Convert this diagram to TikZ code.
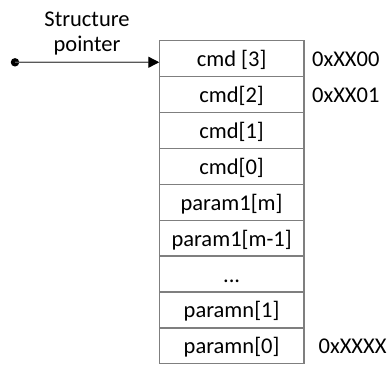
\documentclass[tikz,border=0pt]{standalone}
\usepackage{fontspec}
\setmainfont{Carlito}
\usetikzlibrary{arrows.meta}
\definecolor{boxline}{HTML}{7F7F7F}
\definecolor{wire}{HTML}{595959}
\tikzset{
  cell/.style={draw=boxline, line width=1.3pt, minimum width=144.7pt,
    minimum height=35.9pt, inner sep=0pt, outer sep=0pt,
    text height=18pt, text depth=2pt},
  addr/.style={anchor=west, inner sep=0pt, text height=18pt, text depth=2pt},
  txt/.style={font=\fontsize{22.5}{25.7}\selectfont},
}
\newcommand{\dotsrow}{...}
\begin{document}
\begin{tikzpicture}[x=1pt, y=-1pt, txt]
  \useasboundingbox (0,0) rectangle (390,365);
  % memory cells, top to bottom
  \foreach \t [count=\i] in {{cmd [3]}, {cmd[2]}, {cmd[1]}, {cmd[0]}, {param1[m]},
      {param1[m-1]}, {\dotsrow}, {paramn[1]}, {paramn[0]}} {
    \pgfmathsetmacro{\yc}{40.7 + 35.9*(\i-1) + 17.95}
    \node[cell] (r\i) at (231.6, \yc) {\t};
  }
  % addresses
  \node[addr] (a1) at ([xshift=8pt]r1.east) {0xXX00};
  \node[addr] (a2) at ([xshift=8pt]r2.east) {0xXX01};
  \node[addr] (a9) at ([xshift=14.5pt]r9.east) {0xXXXX};
  % pointer
  \node[circle, fill=black, inner sep=0pt, minimum size=8.5pt] (ptr) at (15,62.3) {};
  \node[align=center, inner sep=0pt, anchor=base] (lbl) at (87,51.7)
    {Structure\\pointer};
  \draw[wire, line width=1.3pt, -{Triangle[length=11pt, width=11pt, fill=black, color=black]}]
    (ptr.center) -- ([yshift=-3.6pt]r1.west);
\end{tikzpicture}
\end{document}
